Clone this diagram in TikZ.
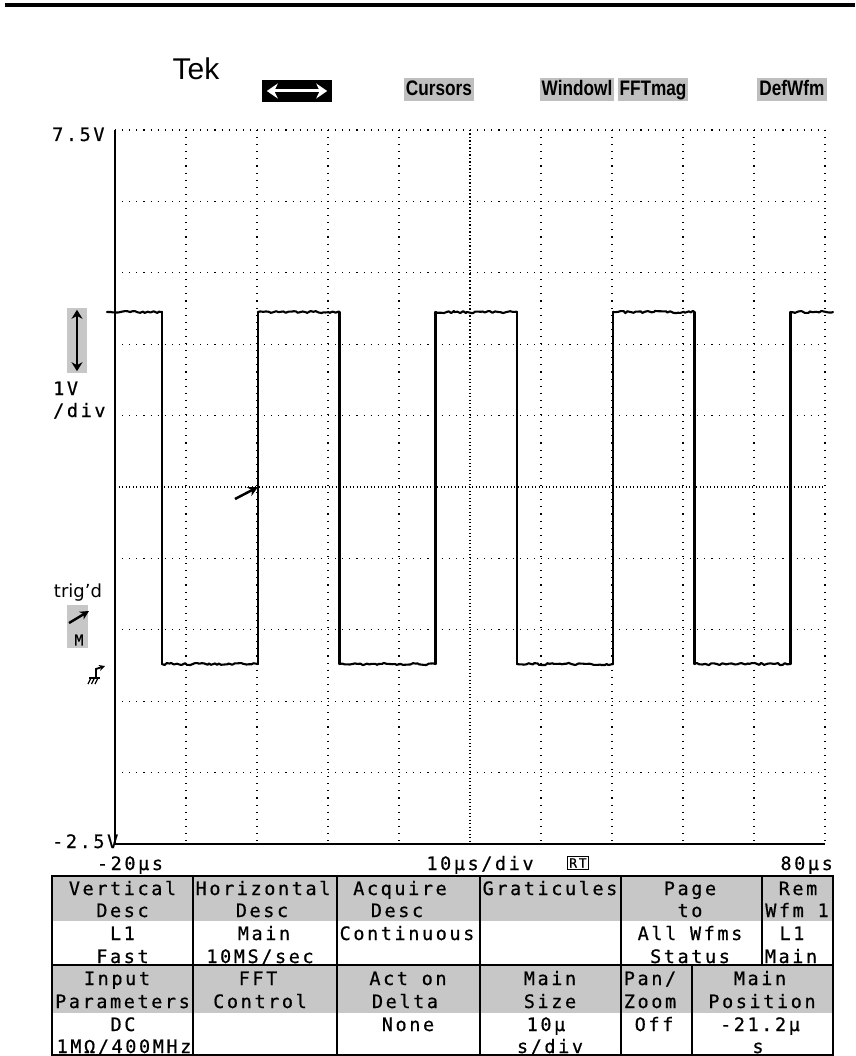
\documentclass[tikz,border=0pt]{standalone}
\usepackage{fontspec}
\usetikzlibrary{arrows.meta,decorations.pathmorphing}
\newfontfamily\scopefont{DejaVu Sans Mono}[LetterSpace=14,FakeBold=0.6]
\newfontfamily\tekfont{Liberation Sans}
\newfontfamily\trigfont{DejaVu Sans}

\begin{document}
\begin{tikzpicture}[
            x = 1pt, y = -1pt,
            every node/.style = {inner sep = 0pt},
            readout/.style = {anchor = base, font = \scopefont\fontsize{18.5}{18.5}\selectfont},
            menutab/.style = {fill = black!25, inner xsep = 2pt, inner ysep = 2.5pt, text height = 15pt, text depth = 3pt, font = \tekfont\bfseries\fontsize{21}{21}\selectfont},
            grat/.style = {line width = 1.1pt, dash pattern = on 1.1pt off 6pt},
            gratmid/.style = {line width = 1.1pt, dash pattern = on 1.1pt off 2.4pt},
            trace/.style = {line width = 2.1pt, line cap = round, line join = round},
            noisy/.style = {decorate, decoration = {random steps, segment length = 2.5pt, amplitude = 1.1pt}},
            cell/.style = {draw, line width = 1.2pt},
            menushade/.style = {fill = black!22},
            bigtip/.style = {{Stealth[length = 9pt, width = 11pt]}-{Stealth[length = 9pt, width = 11pt]}}
            ]
            \useasboundingbox (0,0) rectangle (855,1056);
            \pgfmathsetseed{11}
            \draw[line width = 3.5pt] (5,5) -- (855,5);

            \node[font = \tekfont\fontsize{30}{30}\selectfont] (tek) at (196,69) {Tek};
            \node[fill = black, minimum width = 70pt, minimum height = 22pt] (pan) at (297,91) {};
            \draw[white, line width = 3pt, {Stealth[length = 11pt, width = 15pt]}-{Stealth[length = 11pt, width = 15pt]}] ([xshift = 5pt]pan.west) -- ([xshift = -5pt]pan.east);
            \node[menutab] (cursors) at (439,90) {\scalebox{0.82}[1]{Cursors}};
            \node[menutab] (window) at (577,90) {\scalebox{0.82}[1]{Windowl}};
            \node[menutab] (fftmag) at (653,90) {\scalebox{0.82}[1]{FFTmag}};
            \node[menutab] (defwfm) at (792,90) {\scalebox{0.82}[1]{DefWfm}};

            \foreach \i in {1,2,3,4,6,7,8,9,10}
                \draw[grat] (115+71*\i,130) -- (115+71*\i,844);
            \foreach \j in {0,1,2,3,4,6,7,8,9}
                \draw[grat] (115,130+71.4*\j) -- (825,130+71.4*\j);
            \draw[gratmid] (470,130) -- (470,844);
            \draw[gratmid] (115,487) -- (825,487);
            \draw[line width = 1.5pt] (115,130) -- (115,844) -- (825,844);

            \foreach \x in {162,258,339.5,435.5,517,613,694.5,790.5}
                \draw[trace] (\x,312) -- (\x,664);
            \foreach \a/\b in {107/162,258/339.5,435.5/517,613/694.5,790.5/833}
                \draw[trace, noisy] (\a,312) -- (\b,312);
            \foreach \a/\b in {162/258,339.5/435.5,517/613,694.5/790.5}
                \draw[trace, noisy] (\a,664) -- (\b,664);

            \coordinate (trigtail) at (235,499);
            \coordinate (trigpt) at (258,487);
            \draw[line width = 2.5pt, -{Stealth[length = 10pt, width = 10pt]}] (trigtail) -- (trigpt);

            \node[readout, anchor = base west] (vtop) at (52,141) {7.5V};
            \node[readout, anchor = base west] (vbot) at (52,848) {-2.5V};
            \node[readout, anchor = base west] (vscale) at (53,395) {1V};
            \node[readout, anchor = base west] (vdiv) at (53,417) {/div};
            \node[fill = black!22, minimum width = 20pt, minimum height = 65pt] (vpos) at (77,340.5) {};
            \draw[line width = 2.6pt, bigtip] ([yshift = -2pt]vpos.north) -- ([yshift = 2pt]vpos.south);

            \node[font = \trigfont\fontsize{18}{18}\selectfont] (trigd) at (78,593) {trig’d};
            \node[fill = black!22, minimum width = 21pt, minimum height = 43pt] (trigbox) at (77.5,626.5) {};
            \draw[line width = 2.4pt, -{Stealth[length = 9pt, width = 9pt]}] (69,623) -- (89,611);
            \node[font = \scopefont\fontsize{15}{15}\selectfont] (trigm) at (79,640) {M};
            \draw[line width = 1.3pt] (88,684) -- (91,678) (91.5,684) -- (94.5,678) (95,684) -- (98,678);
            \draw[line width = 1.4pt] (89,678) -- (100,678);
            \draw[line width = 1.8pt, -{Stealth[length = 6pt, width = 6pt]}] (96,678) -- (96,669) -- (105,666);

            \node[readout] (tleft) at (130,870) {-20µs};
            \node[readout] (tdiv) at (480,870) {10µs/div};
            \node[draw, line width = 1pt, inner sep = 2pt, font = \scopefont\fontsize{13}{13}\selectfont] (rt) at (578,863) {RT};
            \node[readout, anchor = base east] (tright) at (833,870) {80µs};

            \foreach \l/\r in {52/193,193/337,337/480,480/621,621/762,762/833} {
                \fill[menushade] (\l,876) rectangle (\r,921);
                \draw[cell] (\l,876) rectangle (\r,965);
            }
            \foreach \l/\r in {52/193,193/337,337/480,480/621,621/692,692/833} {
                \fill[menushade] (\l,965) rectangle (\r,1013);
                \draw[cell] (\l,965) rectangle (\r,1055);
            }

            \node[readout] (vert) at (122.5,895) {Vertical};
            \node[readout] (vdesc) at (122.5,917) {Desc};
            \node[readout] (vlone) at (122.5,940) {L1};
            \node[readout] (vfast) at (122.5,963) {Fast};
            \node[readout] (horiz) at (263,895) {Horizontal};
            \node[readout] (hdesc) at (262,917) {Desc};
            \node[readout] (hmain) at (264,940) {Main};
            \node[readout] (hrate) at (260,963) {10MS/sec};
            \node[readout] (acq) at (400,895) {Acquire};
            \node[readout] (adesc) at (397,917) {Desc};
            \node[readout] (acont) at (407,940) {Continuous};
            \node[readout] (grat) at (550,895) {Graticules};
            \node[readout] (page) at (690,895) {Page};
            \node[readout] (pto) at (690,917) {to};
            \node[readout] (pall) at (690,940) {All Wfms};
            \node[readout] (pstat) at (690,963) {Status};
            \node[readout] (rem) at (798,895) {Rem};
            \node[readout] (rwfm) at (797,917) {Wfm 1};
            \node[readout] (rlone) at (792,940) {L1};
            \node[readout] (rmain) at (791,963) {Main};

            \node[readout] (inp) at (117,985) {Input};
            \node[readout] (ipar) at (122.5,1008) {Parameters};
            \node[readout] (idc) at (123,1031) {DC};
            \node[readout] (iimp) at (124,1053) {1MΩ/400MHz};
            \node[readout] (fft) at (258,985) {FFT};
            \node[readout] (fctl) at (260,1008) {Control};
            \node[readout] (act) at (408,985) {Act on};
            \node[readout] (adelta) at (405,1008) {Delta};
            \node[readout] (anone) at (408,1031) {None};
            \node[readout] (smain) at (550,985) {Main};
            \node[readout] (ssize) at (550,1008) {Size};
            \node[readout] (sval) at (546,1031) {10µ};
            \node[readout] (sunit) at (550,1053) {s/div};
            \node[readout] (zpan) at (650,985) {Pan/};
            \node[readout] (zzoom) at (650,1008) {Zoom};
            \node[readout] (zoff) at (654,1031) {Off};
            \node[readout] (pmain) at (760,985) {Main};
            \node[readout] (ppos) at (762,1008) {Position};
            \node[readout] (pval) at (760,1031) {-21.2µ};
            \node[readout] (punit) at (758,1053) {s};
\end{tikzpicture}
\end{document}
